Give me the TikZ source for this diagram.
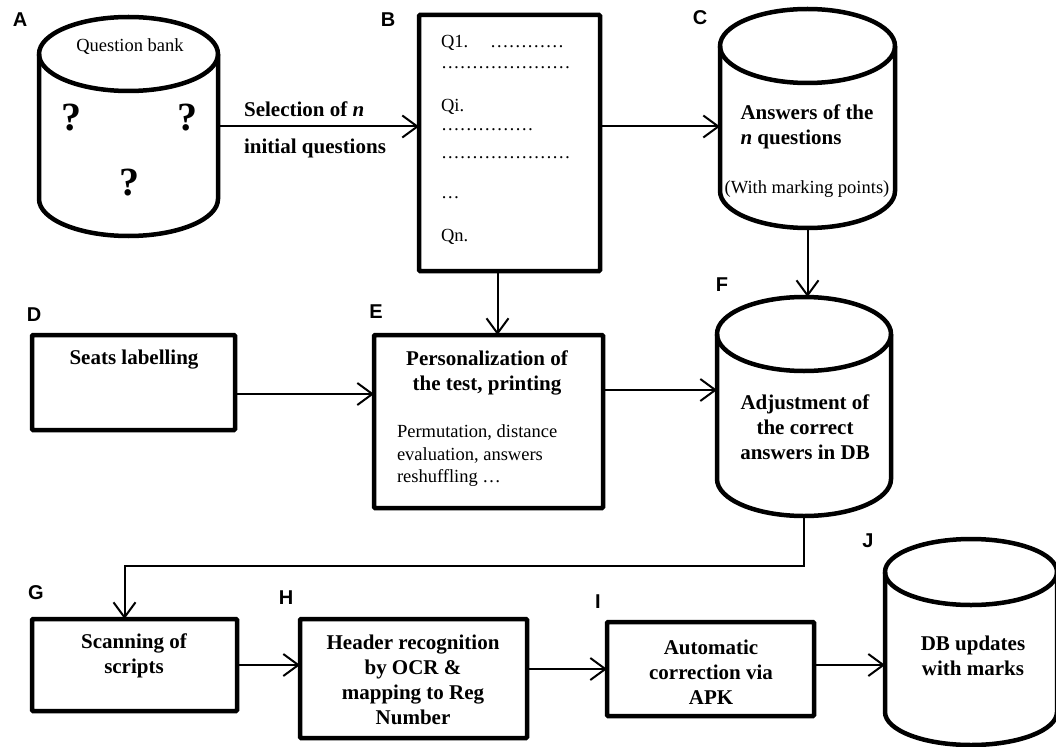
\documentclass[tikz,border=0pt]{standalone}
\usepackage{fontspec}
\setmainfont{Liberation Serif}
\newfontfamily\tagfamily{Liberation Sans}
\newcommand*{\tagfont}{\tagfamily\bfseries\fontsize{20}{22}\selectfont}
\newcommand*{\bodyfont}{\fontsize{18.5}{23}\selectfont}
\newcommand*{\headfont}{\bfseries\fontsize{21}{25}\selectfont}
\newcommand*{\selfont}{\bfseries\fontsize{21}{37}\selectfont}
\usetikzlibrary{arrows.meta}
\usetikzlibrary{positioning}
\tikzstyle{base}=[x=1pt, y=1pt, inner sep=0pt, outer sep=0pt]
\tikzstyle{box}=[draw, rectangle, line width=4.5pt, rounded corners=1pt]
\tikzstyle{store}=[rectangle]
\tikzstyle{drumline}=[line width=4.5pt, line join=round]
\tikzstyle{arr}=[line width=2pt, -{Straight Barb[length=15pt, width=22pt, line width=2pt]}]
\tikzstyle{tag}=[font=\tagfont]
\tikzstyle{head}=[font=\headfont, align=center]
\tikzstyle{body}=[font=\bodyfont, align=left]
\tikzstyle{qline}=[font=\bodyfont, anchor=west]
\tikzstyle{qmark}=[font=\bfseries\fontsize{40}{40}\selectfont]
% outline of a data store round node #1, ellipse radii #2 and #3
\newcommand*{\drum}[3]{%
    \draw [drumline] ([yshift=-#3pt]#1.north) ellipse [x radius=#2, y radius=#3];
    \draw [drumline] ([yshift=-#3pt]#1.north west) -- ([yshift=#3pt]#1.south west)
        arc [start angle=180, end angle=360, x radius=#2, y radius=#3]
        -- ([yshift=-#3pt]#1.north east);}

\begin{document}
\begin{tikzpicture}[base]
    \path [use as bounding box] (0,0) rectangle (1056,-746);
    % data stores
    \node [store, minimum width=179pt, minimum height=219pt] (qbank) at (128.5,-126.5) {};
    \node [store, minimum width=175pt, minimum height=219pt] (answ) at (807.5,-118.5) {};
    \node [store, minimum width=174pt, minimum height=219pt] (adj) at (804,-406.5) {};
    \node [store, minimum width=172pt, minimum height=206pt] (marks) at (971,-642) {};
    \drum{qbank}{89.5}{37}
    \drum{answ}{87.5}{37}
    \drum{adj}{87}{37}
    \drum{marks}{86}{33}
    % process boxes
    \node [box, minimum width=181pt, minimum height=256pt] (qlist) at (509.5,-143) {};
    \node [box, minimum width=203pt, minimum height=95pt] (seats) at (133.5,-382.5) {};
    \node [box, minimum width=229pt, minimum height=173pt] (pers) at (488.5,-421.5) {};
    \node [box, minimum width=205pt, minimum height=92pt] (scan) at (134.5,-665) {};
    \node [box, minimum width=227pt, minimum height=119pt] (ocr) at (413.5,-678.5) {};
    \node [box, minimum width=207pt, minimum height=94pt] (corr) at (710.5,-669) {};
    % letters
    \node [tag] (tA) at (20,-20) {A};
    \node [tag] (tB) at (388,-20) {B};
    \node [tag] (tC) at (700,-18) {C};
    \node [tag] (tD) at (34,-315) {D};
    \node [tag] (tE) at (376,-312) {E};
    \node [tag] (tF) at (722,-285) {F};
    \node [tag] (tG) at (36,-593) {G};
    \node [tag] (tH) at (286,-598) {H};
    \node [tag] (tI) at (598,-602) {I};
    \node [tag] (tJ) at (868,-541) {J};
    % texts of the stores
    \node [body] (qbtitle) at (130,-47) {Question bank};
    \node [qmark] (qm1) at (71,-118) {?};
    \node [qmark] (qm2) at (187,-118) {?};
    \node [qmark] (qm3) at (129,-183) {?};
    \node [head, align=left] (answtxt) at (807,-127) {Answers of the\\\textbf{\textit{n}} questions};
    \node [body] (answnote) at (807,-189) {(With marking points)};
    \node [head] (adjtxt) at (805,-427) {Adjustment of\\the correct\\answers in DB};
    \node [head] (markstxt) at (973,-656) {DB updates\\with marks};
    % texts of the question list
    \node [qline] (q1) at (441,-43) {Q1.\hspace{22pt}…………};
    \node [qline] (q1b) at (441,-68) {…………………};
    \node [qline] (qi) at (441,-107) {Qi.};
    \node [qline] (qib) at (441,-130) {……………};
    \node [qline] (qic) at (441,-158) {…………………};
    \node [qline] (qdots) at (441,-198) {…};
    \node [qline] (qn) at (441,-237) {Qn.};
    % texts of the boxes
    \node [head] (seatstxt) at (134,-360) {Seats labelling};
    \node [head] (perstxt) at (487,-373) {Personalization of\\the test, printing};
    \node [body, anchor=north west, font=\fontsize{18.5}{22.5}\selectfont] (perssub) at (397,-425)
        {Permutation, distance\\evaluation, answers\\reshuffling …};
    \node [head] (scantxt) at (134,-656) {Scanning of\\scripts};
    \node [head] (ocrtxt) at (413,-680) {Header recognition\\by OCR \&\\mapping to Reg\\Number};
    \node [head] (corrtxt) at (711,-672) {Automatic\\correction via\\APK};
    % connectors
    \draw [arr] (qbank.east) -- (qbank.east -| qlist.west)
        node [align=left, anchor=west, pos=0.13, yshift=-3pt, font=\selfont] (sel) {Selection of \textit{n}\\initial questions};
    \draw [arr] (qlist.east |- qbank.east) -- (qbank.east -| answ.west);
    \draw [arr] (answ.south) -- (answ.south |- adj.north);
    \draw [arr] ([xshift=-12pt]qlist.south) -- ([xshift=-12pt]qlist.south |- pers.north);
    \draw [arr] (seats.east |- 0,-394) -- (pers.west |- 0,-394);
    \draw [arr] (pers.east |- 0,-390) -- (adj.west |- 0,-390);
    \draw [arr] (adj.south) -- ++(0,-50) -| ([xshift=-10pt]scan.north);
    \draw [arr] (scan.east) -- (ocr.west |- scan.east);
    \draw [arr] (ocr.east |- corr.west) -- (corr.west);
    \draw [arr] (corr.east |- 0,-665) -- (marks.west |- 0,-665);
\end{tikzpicture}
\end{document}
